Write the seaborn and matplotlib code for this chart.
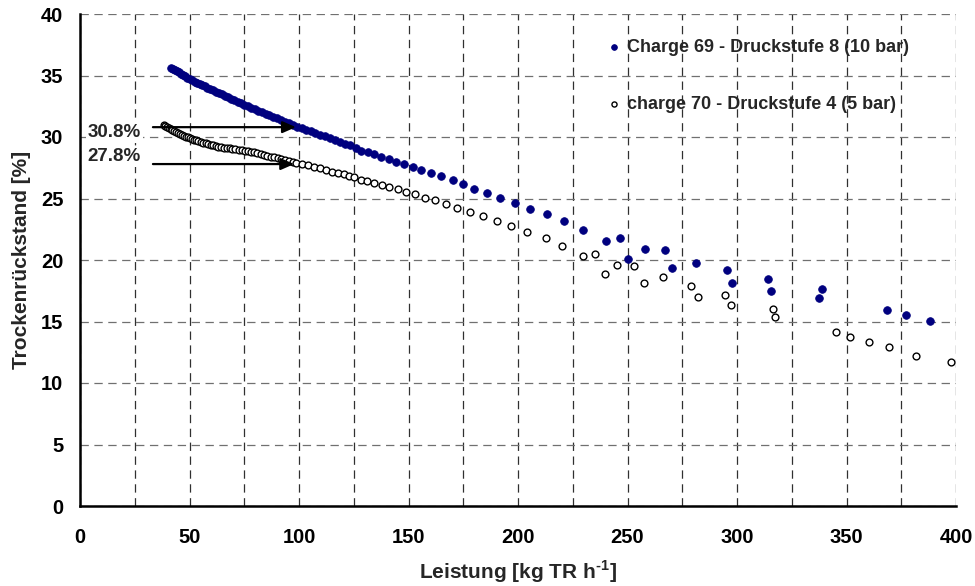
import matplotlib
matplotlib.use("Agg")
import matplotlib.pyplot as plt
from matplotlib.ticker import MultipleLocator
import seaborn as sns
import pandas as pd

# Charge 69 - Druckstufe 8 (10 bar)
leistung_69 = [
    41.5, 42.3, 43.2, 44.1, 45.0, 46.0, 47.0, 48.0, 49.0, 50.1,
    51.2, 52.3, 53.4, 54.6, 55.8, 57.0, 58.2, 59.5, 60.8, 62.1,
    63.4, 64.8, 66.2, 67.6, 69.0, 70.5, 72.0, 73.5, 75.0, 76.6,
    78.2, 79.8, 81.4, 83.1, 84.8, 86.5, 88.2, 90.0, 91.8, 93.6,
    95.5, 97.4, 99.3, 101.3, 103.3, 105.4, 107.5, 109.7, 111.9, 114.2,
    116.5, 118.8, 121.2, 123.5, 125.8, 128.5, 131.3, 134.3, 137.5, 140.9,
    144.4, 148.0, 151.9, 155.9, 160.2, 164.8, 170.1, 174.7, 180.0, 185.9,
    191.8, 198.5, 205.5, 213.2, 221.1, 229.7, 240.2, 246.4, 250.2, 257.9,
    266.9, 270.5, 281.4, 295.6, 297.5, 314.2, 315.3, 337.6, 338.7, 368.4,
    377.0, 388.3,
]
tr_69 = [
    35.65, 35.56, 35.46, 35.36, 35.26, 35.15, 35.03, 34.92, 34.81, 34.69,
    34.60, 34.51, 34.42, 34.32, 34.22, 34.12, 34.02, 33.91, 33.80, 33.69,
    33.58, 33.46, 33.34, 33.22, 33.11, 32.98, 32.85, 32.73, 32.60, 32.49,
    32.37, 32.26, 32.14, 32.02, 31.90, 31.78, 31.65, 31.52, 31.39, 31.26,
    31.12, 30.99, 30.85, 30.72, 30.60, 30.46, 30.33, 30.19, 30.05, 29.91,
    29.76, 29.62, 29.47, 29.32, 29.10, 28.90, 28.75, 28.59, 28.40, 28.20,
    27.99, 27.77, 27.55, 27.31, 27.09, 26.82, 26.50, 26.17, 25.80, 25.46,
    25.05, 24.65, 24.18, 23.72, 23.14, 22.43, 21.56, 21.78, 20.08, 20.87,
    20.82, 19.34, 19.78, 19.15, 18.17, 18.45, 17.50, 16.88, 17.64, 15.90,
    15.52, 15.08,
]

# charge 70 - Druckstufe 4 (5 bar)
leistung_70 = [
    38.2, 39.0, 39.8, 40.6, 41.4, 42.2, 43.0, 43.8, 44.7, 45.6,
    46.5, 47.4, 48.3, 49.2, 50.1, 51.1, 52.1, 53.1, 54.1, 55.2,
    56.3, 57.4, 58.5, 59.6, 60.8, 62.0, 63.2, 64.4, 65.7, 67.0,
    68.3, 69.6, 71.0, 72.4, 73.8, 75.2, 76.6, 78.0, 79.5, 81.0,
    82.5, 84.0, 85.6, 87.2, 88.8, 90.4, 92.0, 93.7, 95.4, 97.1,
    98.8, 101.5, 104.2, 106.8, 109.6, 112.3, 115.0, 117.6, 120.4, 122.8,
    125.2, 128.1, 131.2, 134.3, 137.7, 141.2, 145.1, 148.9, 153.1, 157.6,
    162.3, 167.3, 172.1, 178.0, 183.8, 190.3, 196.8, 204.3, 212.6, 220.3,
    229.6, 235.0, 239.6, 245.3, 252.8, 257.5, 266.3, 278.9, 282.1, 294.5,
    297.4, 316.4, 317.4, 345.2, 351.7, 360.4, 369.6, 381.9, 397.5,
]
tr_70 = [
    31.00, 30.88, 30.78, 30.70, 30.62, 30.55, 30.48, 30.42, 30.35, 30.28,
    30.20, 30.12, 30.04, 29.96, 29.89, 29.83, 29.78, 29.72, 29.67, 29.61,
    29.55, 29.49, 29.43, 29.37, 29.31, 29.25, 29.21, 29.18, 29.14, 29.11,
    29.07, 29.04, 29.00, 28.97, 28.93, 28.89, 28.85, 28.80, 28.74, 28.67,
    28.61, 28.54, 28.47, 28.41, 28.34, 28.28, 28.21, 28.13, 28.05, 27.96,
    27.88, 27.83, 27.69, 27.55, 27.45, 27.31, 27.17, 27.07, 26.96, 26.85,
    26.72, 26.52, 26.39, 26.25, 26.09, 25.92, 25.76, 25.54, 25.33, 25.03,
    24.84, 24.54, 24.24, 23.90, 23.56, 23.18, 22.74, 22.28, 21.75, 21.17,
    20.33, 20.46, 18.90, 19.59, 19.50, 18.11, 18.58, 17.92, 17.02, 17.13,
    16.31, 16.00, 15.40, 14.16, 13.75, 13.32, 12.90, 12.17, 11.68,
]

label_69 = "Charge 69 - Druckstufe 8 (10 bar)"
label_70 = "charge 70 - Druckstufe 4 (5 bar)"

# marked levels at ~98 kg TR/h
marked_levels = [30.8, 27.8]
marked_texts = ["30.8%", "27.8%"]
marked_x = [98.6, 97.8]
marked_text_y = [30.35, 28.4]

sns.set_style("white")
plt.rcParams["font.family"] = ["Liberation Sans", "DejaVu Sans"]
plt.rcParams["font.weight"] = "bold"
plt.rcParams["lines.scale_dashes"] = False
plt.rcParams["mathtext.fontset"] = "custom"
plt.rcParams["mathtext.rm"] = "Liberation Sans:bold"
plt.rcParams["mathtext.bf"] = "Liberation Sans:bold"

df69 = pd.DataFrame({"Leistung": leistung_69, "TR": tr_69})
df70 = pd.DataFrame({"Leistung": leistung_70, "TR": tr_70})

fig = plt.figure(figsize=(9.75, 5.86), dpi=100)
ax = fig.add_axes([80 / 975, 1 - 506 / 586, 876 / 975, 492 / 586])

ax.set_xlim(0, 400)
ax.set_ylim(0, 40)
ax.xaxis.set_major_locator(MultipleLocator(50))
ax.xaxis.set_minor_locator(MultipleLocator(25))
ax.yaxis.set_major_locator(MultipleLocator(5))

ax.set_axisbelow(True)
ax.grid(axis="x", which="both", color="#303030", linewidth=0.9,
        dashes=(6, 4))
ax.grid(axis="y", which="major", color="#707070", linewidth=0.9,
        dashes=(6, 4))

sns.scatterplot(data=df69, x="Leistung", y="TR", ax=ax, color="#00007f",
                edgecolor="#00007f", s=30, linewidth=0.6, label=label_69,
                zorder=3)
sns.scatterplot(data=df70, x="Leistung", y="TR", ax=ax, facecolor="white",
                edgecolor="black", s=24, linewidth=1.0, label=label_70,
                zorder=3)

for lvl, xe in zip(marked_levels, marked_x):
    ax.annotate("", xy=(xe, lvl), xytext=(33.3, lvl),
                arrowprops=dict(arrowstyle="-|>,head_length=0.8,head_width=0.35",
                                color="black", lw=1.6, shrinkA=0, shrinkB=0),
                zorder=4)
for txt, ty in zip(marked_texts, marked_text_y):
    ax.text(27.8, ty, txt, ha="right", va="center", fontsize=13.5,
            fontweight="bold", zorder=5,
            bbox=dict(facecolor="white", edgecolor="none", pad=1.5))

for side in ("top", "right"):
    ax.spines[side].set_visible(False)
for side in ("left", "bottom"):
    ax.spines[side].set_linewidth(1.8)
    ax.spines[side].set_color("black")

ax.tick_params(axis="x", which="major", direction="inout", length=10,
               width=1.8, labelsize=14.5, pad=11, colors="black")
ax.tick_params(axis="x", which="minor", direction="in", length=5, width=1.5)
ax.tick_params(axis="y", which="major", direction="out", length=6,
               width=1.8, labelsize=14.5, pad=6, colors="black")
for lab in ax.get_xticklabels() + ax.get_yticklabels():
    lab.set_fontweight("bold")

ax.set_xlabel("Leistung [kg TR h$^{\\text{-1}}$]", fontsize=15,
              fontweight="bold", labelpad=8)
ax.set_ylabel("Trockenrückstand [%]", fontsize=15, fontweight="bold",
              labelpad=7)

leg = ax.legend(loc="upper left", bbox_to_anchor=(0.601, 0.950),
                frameon=False, labelspacing=2.25,
                handletextpad=0.32, handlelength=0.8, borderaxespad=0,
                borderpad=0, markerscale=0.75,
                prop={"weight": "bold", "size": 13})

fig.savefig("out.png", dpi=100)
